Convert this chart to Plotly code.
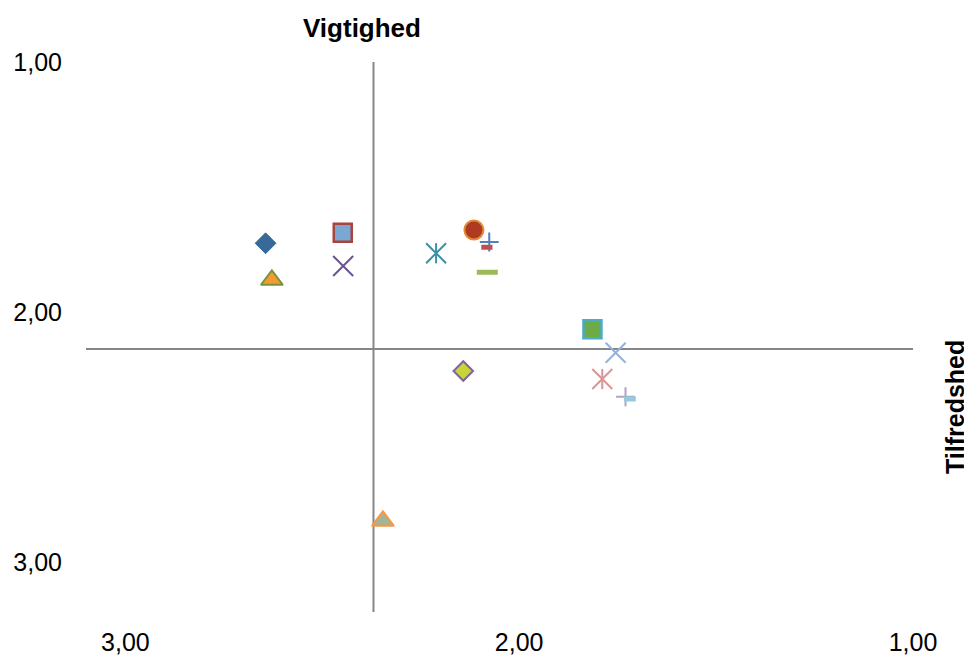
import plotly.graph_objects as go

# ---- data ----
series_names = ["S1", "S2", "S3", "S4", "S5", "S6", "S7", "S8", "S9",
                "S10", "S11", "S12", "S13", "S14", "S15", "S16"]
tilfredshed = [2.644, 2.628, 2.448, 2.447, 2.211, 2.115, 2.076, 2.082, 2.081,
               1.814, 1.755, 1.789, 1.730, 1.719, 2.142, 2.346]
vigtighed = [1.725, 1.872, 1.683, 1.816, 1.765, 1.672, 1.720, 1.741, 1.841,
             2.069, 2.163, 2.268, 2.339, 2.348, 2.236, 2.836]
x_ticks = [3.0, 2.0, 1.0]
y_ticks = [1.0, 2.0, 3.0]
x_cross = 2.37    # where the vertical axis crosses
y_cross = 2.148   # where the horizontal axis crosses

# ---- styles ----
styles = [
    dict(symbol="diamond", size=16, color="#386A99", line="#386A99", lw=1),
    dict(symbol="triangle-up", size=19, color="#F49A33", line="#77933C", lw=2),
    dict(symbol="square", size=18, color="#7BA7D5", line="#A6443E", lw=2.5),
    dict(symbol="x-thin-open", size=20, color="#6A5490", line="#6A5490", lw=2),
    dict(symbol="asterisk6", size=20, color="#3D90A6", line="#3D90A6", lw=2),
    dict(symbol="circle", size=19, color="#AE3A20", line="#E3893B", lw=2),
    dict(symbol="cross-thin-open", size=13.5, color="#4F81BD", line="#4F81BD", lw=2),
    dict(symbol="line-ew-open", size=8, color="#C0504D", line="#C0504D", lw=5),
    dict(symbol="line-ew-open", size=15, color="#9BBB59", line="#9BBB59", lw=5),
    dict(symbol="square", size=18, color="#6CAB45", line="#4BACC6", lw=2.5),
    dict(symbol="x-thin-open", size=20, color="#95B3D7", line="#95B3D7", lw=2),
    dict(symbol="asterisk6", size=20, color="#D99694", line="#D99694", lw=2),
    dict(symbol="cross-thin-open", size=13.5, color="#B3A2C7", line="#B3A2C7", lw=2),
    dict(symbol="line-ew-open", size=8.5, color="#93CDDD", line="#93CDDD", lw=5),
    dict(symbol="diamond", size=15, color="#C9D536", line="#8064A2", lw=2),
    dict(symbol="triangle-up", size=19, color="#A5B592", line="#F79646", lw=2),
]

FONT = "Liberation Sans, Arial, sans-serif"
fig = go.Figure()

for name, xv, yv, st in zip(series_names, tilfredshed, vigtighed, styles):
    if st["symbol"] == "asterisk6":
        parts = [("x-thin-open", st["size"]), ("line-ns-open", st["size"] * 0.72)]
    else:
        parts = [(st["symbol"], st["size"])]
    for sym, sz in parts:
        fig.add_trace(go.Scatter(
            x=[xv], y=[yv], mode="markers", name=name, showlegend=False,
            marker=dict(symbol=sym, size=sz, color=st["color"],
                        line=dict(color=st["line"], width=st["lw"])),
        ))

axis_line = dict(color="#868686", width=2)
fig.add_shape(type="line", xref="x", yref="paper", x0=x_cross, x1=x_cross,
              y0=0, y1=1, line=axis_line, layer="below")
fig.add_shape(type="line", xref="paper", yref="y", x0=0, x1=1,
              y0=y_cross, y1=y_cross, line=axis_line, layer="below")

fig.update_layout(
    width=964, height=649,
    margin=dict(l=78, r=59, t=54, b=45),
    plot_bgcolor="white", paper_bgcolor="white",
    separators=",.",
    font=dict(family=FONT, size=25, color="#000000"),
    xaxis=dict(range=[3.1, 1.0], tickvals=x_ticks, tickformat=".2f",
               showgrid=False, zeroline=False, showline=False, automargin=False,
               ticks="outside", ticklen=8, tickcolor="rgba(0,0,0,0)",
               tickfont=dict(size=25)),
    yaxis=dict(range=[3.2, 1.0], tickvals=y_ticks, tickformat=".2f",
               showgrid=False, zeroline=False, showline=False, automargin=False,
               ticks="outside", ticklen=18, tickcolor="rgba(0,0,0,0)",
               tickfont=dict(size=25)),
    annotations=[
        dict(text="<b>Vigtighed</b>", xref="paper", yref="paper",
             x=(354 - 78) / 827, y=1 + (54 - 20) / 550,
             xanchor="center", yanchor="middle", showarrow=False,
             font=dict(size=26)),
        dict(text="<b>Tilfredshed</b>", xref="paper", yref="paper",
             x=(947 - 78) / 827, y=(604 - 399) / 550, textangle=-90,
             xanchor="center", yanchor="middle", showarrow=False,
             font=dict(size=25)),
    ],
)

fig.write_html("out.html")
